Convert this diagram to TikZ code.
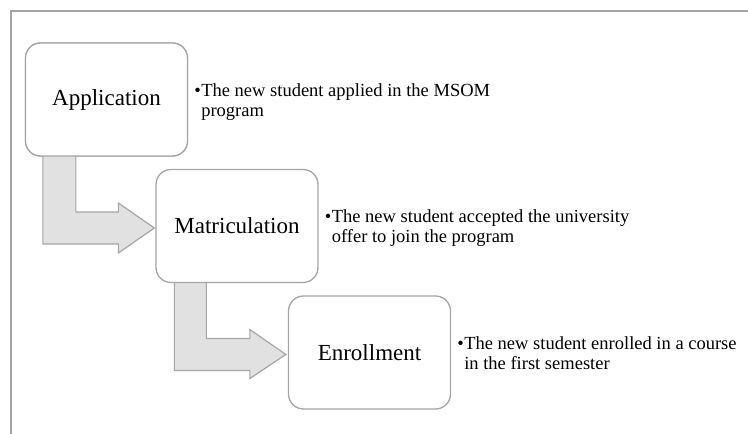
\documentclass[tikz,border=0pt]{standalone}
\usepackage{fontspec}
\setmainfont{Liberation Serif}
\usetikzlibrary{calc}
\definecolor{edgegray}{HTML}{A5A5A5}
\definecolor{fillgray}{HTML}{E1E1E1}
\tikzset{
  stagebox/.style={draw=edgegray, line width=1.3pt, fill=white, rounded corners=15pt,
    minimum width=162pt, minimum height=113pt, inner sep=0pt,
    font=\fontsize{23}{26}\selectfont},
  bentarrow/.style={draw=edgegray, line width=1.2pt, fill=fillgray, line join=miter},
  desc/.style={anchor=west, inner sep=0pt, font=\fontsize{18.5}{20}\selectfont},
  framestyle/.style={draw=edgegray, line width=1.5pt}
}
\newcommand{\bulletlines}[2]{\begin{tabular}{@{}l@{\hspace{0.5pt}}l@{}}\textbullet & #1\\ & #2\end{tabular}}
\begin{document}
\begin{tikzpicture}[x=1pt,y=-1pt]
\useasboundingbox (0,0) rectangle (748,434);
\draw[framestyle] (748,11) -- (11,11) -- (11,434);

% arrows first (behind boxes)
\path (106.5,99.5) coordinate (appc) (237,226) coordinate (matc) (369.5,352.5) coordinate (enrc);
\node[stagebox] (app) at (appc) {Application};
\node[stagebox, opacity=0] (mat0) at (matc) {};
\node[stagebox, opacity=0] (enr0) at (enrc) {};

% arrow 1
\coordinate (t1) at ($(mat0.west)+(-1,2)$);
\coordinate (h1) at ($(t1)+(-36,0)$);
\path (h1) ++(0,-16) coordinate (h1u) ++(0,-9) coordinate (h1uu);
\path (h1) ++(0,16) coordinate (h1d) ++(0,9) coordinate (h1dd);
\coordinate (s1) at ($(app.south west)+(18,-2)$);
\coordinate (s1r) at ($(s1)+(33,0)$);
\draw[bentarrow] (s1) -- (s1r) -- (s1r |- h1u) -- (h1u) -- (h1uu) -- (t1) -- (h1dd) -- (h1d) -- (s1 |- h1d) -- cycle;

% arrow 2
\coordinate (t2) at ($(enr0.west)+(-2,2)$);
\coordinate (h2) at ($(t2)+(-36,0)$);
\path (h2) ++(0,-16) coordinate (h2u) ++(0,-9) coordinate (h2uu);
\path (h2) ++(0,16) coordinate (h2d) ++(0,8) coordinate (h2dd);
\coordinate (s2) at ($(mat0.south west)+(19,-2)$);
\coordinate (s2r) at ($(s2)+(32,0)$);
\draw[bentarrow] (s2) -- (s2r) -- (s2r |- h2u) -- (h2u) -- (h2uu) -- (t2) -- (h2dd) -- (h2d) -- (s2 |- h2d) -- cycle;

% boxes on top
\node[stagebox] (app) at (appc) {Application};
\node[stagebox] (mat) at (matc) {Matriculation};
\node[stagebox] (enr) at (enrc) {Enrollment};

% descriptions
\node[desc] (appd) at ($(app.east)+(6,2.5)$) {\bulletlines{The new student applied in the MSOM}{program}};
\node[desc] (matd) at ($(mat.east)+(6,2.5)$) {\bulletlines{The new student accepted the university}{offer to join the program}};
\node[desc] (enrd) at ($(enr.east)+(6,2.5)$) {\bulletlines{The new student enrolled in a course}{in the first semester}};
\end{tikzpicture}
\end{document}
